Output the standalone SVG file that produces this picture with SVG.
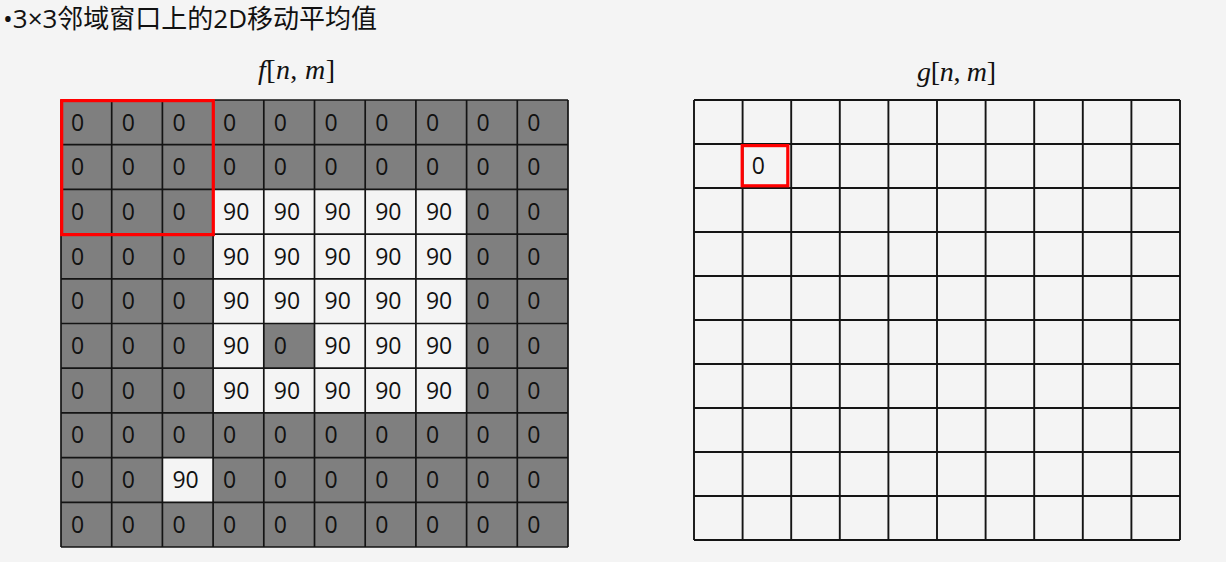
<svg xmlns="http://www.w3.org/2000/svg" width="1226" height="562" viewBox="0 0 1226 562">
<style>
.bg{fill:#f4f4f4}
.gray{fill:#7f7f7f}
.white{fill:#f4f4f4}
.grid{fill:none;stroke:#141414;stroke-width:1.7}
.rgrid{fill:none;stroke:#141414;stroke-width:1.9}
.hl{fill:none;stroke:#ff0000;stroke-width:3.2}
.num{font-family:"Open Sans","Noto Sans",sans-serif;font-size:23px;fill:#111}
.title{font-family:"Open Sans","Noto Sans CJK SC",sans-serif;font-size:26px;fill:#111}
.math{font-family:"Liberation Serif","DejaVu Serif",serif;font-size:28px;fill:#111}
.it{font-style:italic}
</style>
<rect class="bg" x="0" y="0" width="1226" height="562"/>
<g id="title">
<text class="title" x="3" y="28">•3×3邻域窗口上的2D移动平均值</text>
</g>
<g id="label-f">
<text class="math" x="258" y="79" textLength="77" lengthAdjust="spacing"><tspan class="it">f</tspan>[<tspan class="it">n</tspan>, <tspan class="it">m</tspan>]</text>
</g>
<g id="label-g">
<text class="math" x="917" y="80.5" textLength="79" lengthAdjust="spacing"><tspan class="it">g</tspan>[<tspan class="it">n</tspan>, <tspan class="it">m</tspan>]</text>
</g>
<g id="grid-f">
<rect class="gray" x="61" y="100" width="507" height="447"/>
<rect class="white" x="213.1" y="189.4" width="253.5" height="223.5"/>
<rect class="gray" x="263.8" y="323.5" width="50.7" height="44.7"/>
<rect class="white" x="162.4" y="457.6" width="50.7" height="44.7"/>
<path class="grid" d="M61 100V547M111.7 100V547M162.4 100V547M213.1 100V547M263.8 100V547M314.5 100V547M365.2 100V547M415.9 100V547M466.6 100V547M517.3 100V547M568 100V547M61 100H568M61 144.7H568M61 189.4H568M61 234.1H568M61 278.8H568M61 323.5H568M61 368.2H568M61 412.9H568M61 457.6H568M61 502.3H568M61 547H568"/>
<g class="num">
<text y="130.5"><tspan x="71">0</tspan><tspan x="121.7">0</tspan><tspan x="172.4">0</tspan><tspan x="223.1">0</tspan><tspan x="273.8">0</tspan><tspan x="324.5">0</tspan><tspan x="375.2">0</tspan><tspan x="425.9">0</tspan><tspan x="476.6">0</tspan><tspan x="527.3">0</tspan></text>
<text y="175.2"><tspan x="71">0</tspan><tspan x="121.7">0</tspan><tspan x="172.4">0</tspan><tspan x="223.1">0</tspan><tspan x="273.8">0</tspan><tspan x="324.5">0</tspan><tspan x="375.2">0</tspan><tspan x="425.9">0</tspan><tspan x="476.6">0</tspan><tspan x="527.3">0</tspan></text>
<text y="219.9"><tspan x="71">0</tspan><tspan x="121.7">0</tspan><tspan x="172.4">0</tspan><tspan x="223.1">90</tspan><tspan x="273.8">90</tspan><tspan x="324.5">90</tspan><tspan x="375.2">90</tspan><tspan x="425.9">90</tspan><tspan x="476.6">0</tspan><tspan x="527.3">0</tspan></text>
<text y="264.6"><tspan x="71">0</tspan><tspan x="121.7">0</tspan><tspan x="172.4">0</tspan><tspan x="223.1">90</tspan><tspan x="273.8">90</tspan><tspan x="324.5">90</tspan><tspan x="375.2">90</tspan><tspan x="425.9">90</tspan><tspan x="476.6">0</tspan><tspan x="527.3">0</tspan></text>
<text y="309.3"><tspan x="71">0</tspan><tspan x="121.7">0</tspan><tspan x="172.4">0</tspan><tspan x="223.1">90</tspan><tspan x="273.8">90</tspan><tspan x="324.5">90</tspan><tspan x="375.2">90</tspan><tspan x="425.9">90</tspan><tspan x="476.6">0</tspan><tspan x="527.3">0</tspan></text>
<text y="354"><tspan x="71">0</tspan><tspan x="121.7">0</tspan><tspan x="172.4">0</tspan><tspan x="223.1">90</tspan><tspan x="273.8">0</tspan><tspan x="324.5">90</tspan><tspan x="375.2">90</tspan><tspan x="425.9">90</tspan><tspan x="476.6">0</tspan><tspan x="527.3">0</tspan></text>
<text y="398.7"><tspan x="71">0</tspan><tspan x="121.7">0</tspan><tspan x="172.4">0</tspan><tspan x="223.1">90</tspan><tspan x="273.8">90</tspan><tspan x="324.5">90</tspan><tspan x="375.2">90</tspan><tspan x="425.9">90</tspan><tspan x="476.6">0</tspan><tspan x="527.3">0</tspan></text>
<text y="443.4"><tspan x="71">0</tspan><tspan x="121.7">0</tspan><tspan x="172.4">0</tspan><tspan x="223.1">0</tspan><tspan x="273.8">0</tspan><tspan x="324.5">0</tspan><tspan x="375.2">0</tspan><tspan x="425.9">0</tspan><tspan x="476.6">0</tspan><tspan x="527.3">0</tspan></text>
<text y="488.1"><tspan x="71">0</tspan><tspan x="121.7">0</tspan><tspan x="172.4">90</tspan><tspan x="223.1">0</tspan><tspan x="273.8">0</tspan><tspan x="324.5">0</tspan><tspan x="375.2">0</tspan><tspan x="425.9">0</tspan><tspan x="476.6">0</tspan><tspan x="527.3">0</tspan></text>
<text y="532.8"><tspan x="71">0</tspan><tspan x="121.7">0</tspan><tspan x="172.4">0</tspan><tspan x="223.1">0</tspan><tspan x="273.8">0</tspan><tspan x="324.5">0</tspan><tspan x="375.2">0</tspan><tspan x="425.9">0</tspan><tspan x="476.6">0</tspan><tspan x="527.3">0</tspan></text>
</g>
<rect id="window-f" class="hl" x="61.7" y="100.6" width="151.6" height="134"/>
</g>
<g id="grid-g">
<rect class="white" x="694" y="100" width="486" height="440"/>
<path class="rgrid" d="M694 100V540M742.6 100V540M791.2 100V540M839.8 100V540M888.4 100V540M937 100V540M985.6 100V540M1034.2 100V540M1082.8 100V540M1131.4 100V540M1180 100V540M694 100H1180M694 144H1180M694 188H1180M694 232H1180M694 276H1180M694 320H1180M694 364H1180M694 408H1180M694 452H1180M694 496H1180M694 540H1180"/>
<rect id="window-g" class="hl" x="742.2" y="145.6" width="45.6" height="40.2"/>
<text class="num" x="751.8" y="174">0</text>
</g>
</svg>
